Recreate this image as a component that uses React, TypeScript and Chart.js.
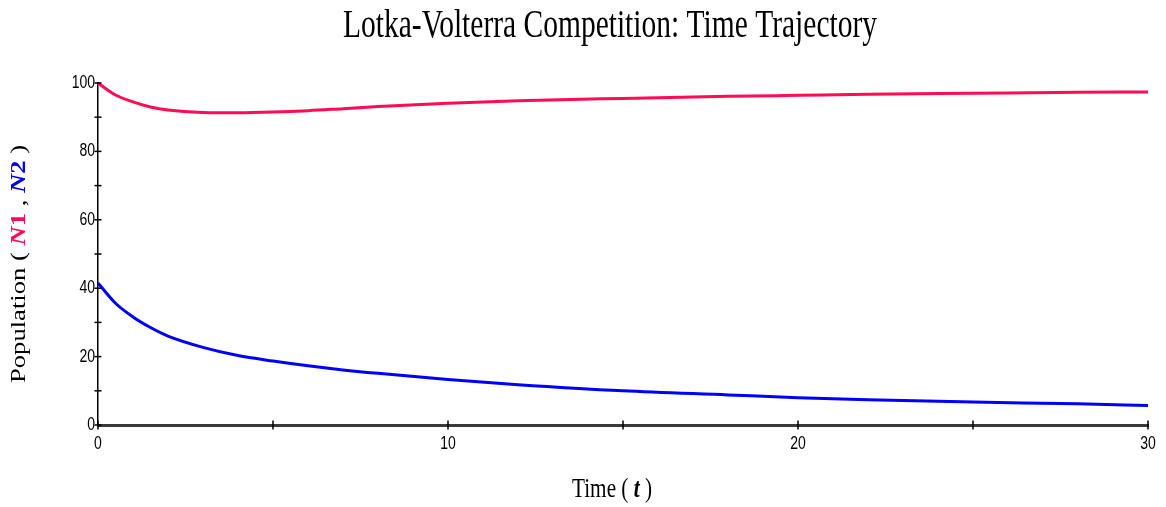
import React, { useEffect, useRef } from "react";
import { Chart, registerables } from "chart.js";

Chart.register(...registerables);

// Time samples and the two competing populations
const timePoints = [0, 0.5, 1, 1.5, 2, 3, 4, 5, 6, 7, 8, 10, 12, 15, 18, 20, 22, 25, 28, 30];
const speciesOne = [100, 96.5, 94.5, 93.0, 92.1, 91.4, 91.3, 91.5, 91.9, 92.5, 93.1, 94.1, 94.8, 95.5, 96.1, 96.4, 96.7, 97.0, 97.3, 97.4];
const speciesTwo = [41.5, 35.6, 31.6, 28.5, 26.0, 22.7, 20.3, 18.7, 17.3, 16.1, 15.1, 13.3, 11.8, 10.0, 8.8, 8.0, 7.4, 6.7, 6.2, 5.7];

// Labelled ticks (minor ticks in between carry no label)
const xTickLabels = ["0", "10", "20", "30"];
const yTickLabels = ["0", "20", "40", "60", "80", "100"];

const titleText = "Lotka-Volterra Competition: Time Trajectory";

const RED = "#ff0a54";
const BLUE = "#0000ff";
const SERIF = '"Liberation Serif", "Times New Roman", serif';
const SANS = '"Liberation Sans", Arial, sans-serif';

type Seg = { text: string; color: string; style?: string; weight?: string };

const xTitleParts: Seg[] = [
  { text: "Time ( ", color: "#000" },
  { text: "t", color: "#000", style: "italic", weight: "bold" },
  { text: " )", color: "#000" },
];

const yTitleParts: Seg[] = [
  { text: "Population ( ", color: "#000" },
  { text: "N", color: RED, style: "italic", weight: "bold" },
  { text: "1", color: RED, weight: "bold" },
  { text: " , ", color: "#000" },
  { text: "N", color: BLUE, style: "italic", weight: "bold" },
  { text: "2", color: BLUE, weight: "bold" },
  { text: " )", color: "#000" },
];

function fontOf(s: Seg, size: number) {
  return `${s.style || "normal"} ${s.weight || "normal"} ${size}px ${SERIF}`;
}

// Draw a run of styled text pieces, squeezed/stretched to a given length
function drawSegments(ctx: CanvasRenderingContext2D, segs: Seg[], size: number, targetWidth: number) {
  const widths = segs.map((s) => {
    ctx.font = fontOf(s, size);
    return ctx.measureText(s.text).width;
  });
  const total = widths.reduce((a, b) => a + b, 0);
  ctx.save();
  ctx.scale(targetWidth / total, 1);
  ctx.textBaseline = "alphabetic";
  ctx.textAlign = "left";
  let x = 0;
  segs.forEach((s, i) => {
    ctx.font = fontOf(s, size);
    ctx.fillStyle = s.color;
    ctx.fillText(s.text, x, 0);
    x += widths[i];
  });
  ctx.restore();
}

const decorations = {
  id: "decorations",
  afterDraw(chart: any) {
    const ctx: CanvasRenderingContext2D = chart.ctx;
    const xs = chart.scales.x;
    const ys = chart.scales.y;
    const axisY = ys.getPixelForValue(0);
    const axisX = xs.getPixelForValue(0);

    ctx.save();
    // tick marks crossing the axes
    ctx.strokeStyle = "#000";
    ctx.lineWidth = 1.5;
    ys.ticks.forEach((t: any) => {
      const py = ys.getPixelForValue(t.value);
      ctx.beginPath();
      ctx.moveTo(axisX - 3.5, py);
      ctx.lineTo(axisX + 3.5, py);
      ctx.stroke();
    });
    xs.ticks.forEach((t: any) => {
      const px = xs.getPixelForValue(t.value);
      ctx.beginPath();
      ctx.moveTo(px, axisY - 4.5);
      ctx.lineTo(px, axisY + 4.5);
      ctx.stroke();
    });

    // tick labels (tall, narrow digits)
    ctx.fillStyle = "#000";
    ctx.font = `14px ${SANS}`;
    ctx.textBaseline = "middle";
    ys.ticks.forEach((t: any) => {
      if (!t.label) return;
      const py = ys.getPixelForValue(t.value);
      ctx.save();
      ctx.translate(axisX - 3, py);
      ctx.scale(1, 1.32);
      ctx.textAlign = "right";
      ctx.fillText(t.label, 0, 0);
      ctx.restore();
    });
    xs.ticks.forEach((t: any) => {
      if (!t.label) return;
      const px = xs.getPixelForValue(t.value);
      ctx.save();
      ctx.translate(px, axisY + 18.5);
      ctx.scale(1, 1.32);
      ctx.textAlign = "center";
      ctx.fillText(t.label, 0, 0);
      ctx.restore();
    });

    // chart title
    ctx.save();
    ctx.translate(343, 37);
    drawSegments(ctx, [{ text: titleText, color: "#000" }], 40, 534);
    ctx.restore();

    // x axis title
    ctx.save();
    ctx.translate(572, 497);
    drawSegments(ctx, xTitleParts, 28, 80);
    ctx.restore();

    // y axis title (reads bottom to top)
    ctx.save();
    ctx.translate(25, 383);
    ctx.rotate(-Math.PI / 2);
    drawSegments(ctx, yTitleParts, 20, 238);
    ctx.restore();

    ctx.restore();
  },
};

export default function App() {
  const canvasRef = useRef<HTMLCanvasElement | null>(null);

  useEffect(() => {
    const canvas = canvasRef.current;
    if (!canvas) return;
    const chart = new Chart(canvas, {
      type: "line",
      data: {
        datasets: [
          {
            label: "N1",
            data: timePoints.map((t, i) => ({ x: t, y: speciesOne[i] })),
            borderColor: RED,
            borderWidth: 3,
            pointRadius: 0,
            cubicInterpolationMode: "monotone",
            clip: false,
          },
          {
            label: "N2",
            data: timePoints.map((t, i) => ({ x: t, y: speciesTwo[i] })),
            borderColor: BLUE,
            borderWidth: 3,
            pointRadius: 0,
            cubicInterpolationMode: "monotone",
            clip: false,
          },
        ],
      },
      options: {
        responsive: false,
        animation: false,
        devicePixelRatio: 1,
        layout: { padding: { top: 83, right: 18, left: 0, bottom: 0 } },
        plugins: { legend: { display: false }, tooltip: { enabled: false }, title: { display: false } },
        scales: {
          x: {
            type: "linear",
            min: 0,
            max: 30,
            grid: { display: false },
            border: { display: true, color: "#3a3a3a", width: 3 },
            ticks: {
              display: false,
              stepSize: 5,
              callback: (v: any) => (xTickLabels.includes(String(v)) ? String(v) : ""),
            },
            afterFit: (s: any) => {
              s.height = 82;
            },
          },
          y: {
            type: "linear",
            min: 0,
            max: 100,
            grid: { display: false },
            border: { display: true, color: "#000", width: 1.5 },
            ticks: {
              display: false,
              stepSize: 10,
              callback: (v: any) => (yTickLabels.includes(String(v)) ? String(v) : ""),
            },
            afterFit: (s: any) => {
              s.width = 98;
            },
          },
        },
      },
      plugins: [decorations],
    });
    return () => chart.destroy();
  }, []);

  return (
    <div style={{ position: "fixed", left: 0, top: 0, width: 1166, height: 507, background: "#fff" }}>
      <canvas ref={canvasRef} width={1166} height={507} style={{ width: 1166, height: 507, display: "block" }} />
    </div>
  );
}
